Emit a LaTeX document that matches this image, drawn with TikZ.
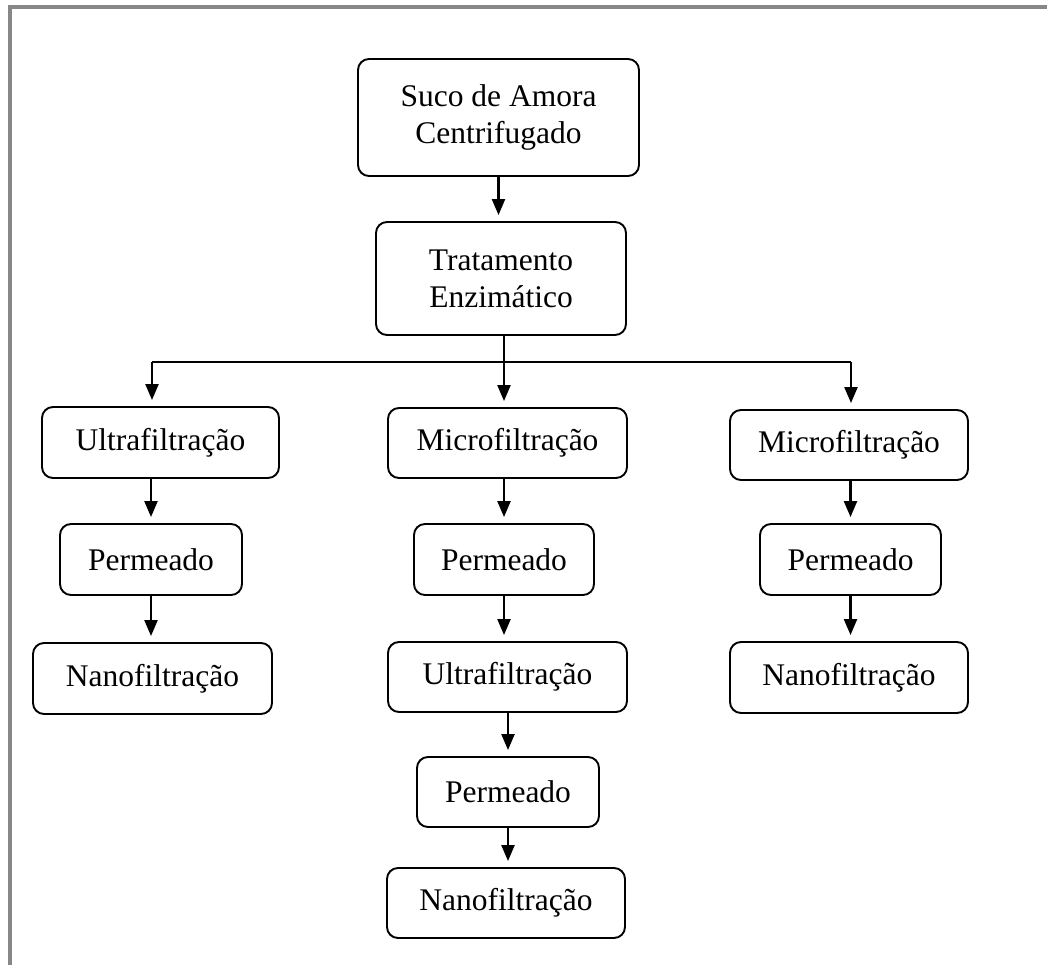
\documentclass[tikz,border=0pt]{standalone}
\usepackage{fontspec}
\setmainfont{Liberation Serif}
\usetikzlibrary{arrows.meta}
\definecolor{framegray}{RGB}{135,135,135}
\begin{document}
\begin{tikzpicture}[x=1pt,y=-1pt,
  box/.style={draw, line width=1.9pt, rounded corners=11pt, inner sep=0pt, align=center,
    font=\fontsize{31.5}{37}\selectfont},
  conn/.style={line width=2.3pt},
  arr/.style={conn, -{Triangle[width=13pt,length=16pt]}, shorten >=6pt},
  frameline/.style={framegray, line width=4pt},
]
\useasboundingbox (0,0) rectangle (1047,965);
\draw[frameline] (10,965) -- (10,7.5) -- (1047,7.5);

% top
\node[box, minimum width=281pt, minimum height=117pt] (n1) at (498.5,117.5) {Suco de Amora\\Centrifugado};
\node[box, minimum width=250pt, minimum height=113pt] (n2) at (501,278.5) {Tratamento\\Enzimático};

% left column
\node[box, minimum width=237pt, minimum height=71pt] (uf1) at (160.5,442.5) {Ultrafiltração};
\node[box, minimum width=182pt, minimum height=71pt] (p1) at (151,559.5) {Permeado};
\node[box, minimum width=239pt, minimum height=71pt] (nf1) at (152.5,678.5) {Nanofiltração};

% middle column
\node[box, minimum width=239pt, minimum height=70pt] (mf2) at (507.5,443) {Microfiltração};
\node[box, minimum width=180pt, minimum height=71pt] (p2) at (504,559.5) {Permeado};
\node[box, minimum width=239pt, minimum height=70pt] (uf2) at (507.5,677) {Ultrafiltração};
\node[box, minimum width=182pt, minimum height=70pt] (p3) at (508,792) {Permeado};
\node[box, minimum width=238pt, minimum height=70pt] (nf2) at (506,903) {Nanofiltração};

% right column
\node[box, minimum width=238pt, minimum height=70pt] (mf3) at (849,445) {Microfiltração};
\node[box, minimum width=181pt, minimum height=71pt] (p4) at (850.5,559.5) {Permeado};
\node[box, minimum width=238pt, minimum height=71pt] (nf3) at (849,677.5) {Nanofiltração};

% connectors
\draw[arr] (n1.south) -- (n1.south |- n2.north);

\coordinate (jc) at (504,362);
\coordinate (jl) at (152,362);
\coordinate (jr) at (851,362);
\draw[line width=1.4pt] (n2.south -| jc) -- (jc);
\draw[conn] (jl) -- (jr);
\draw[arr] (jl) -- (jl |- uf1.north);
\draw[arr] (jc) -- (jc |- mf2.north);
\draw[arr] (jr) -- (jr |- mf3.north);

\draw[arr] (p1.north |- uf1.south) -- (p1.north);
\draw[arr] (p1.south) -- (p1.south |- nf1.north);

\draw[arr] (p2.north |- mf2.south) -- (p2.north);
\draw[arr] (p2.south) -- (p2.south |- uf2.north);
\draw[arr] (p3.north |- uf2.south) -- (p3.north);
\draw[arr] (p3.south) -- (p3.south |- nf2.north);

\draw[arr] (p4.north |- mf3.south) -- (p4.north);
\draw[arr] (p4.south) -- (p4.south |- nf3.north);
\end{tikzpicture}
\end{document}
